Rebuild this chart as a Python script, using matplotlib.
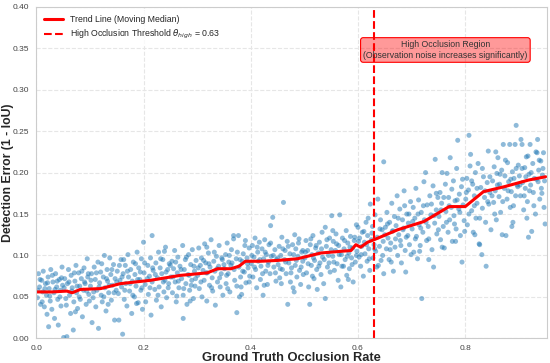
import numpy as np
import matplotlib
matplotlib.use("Agg")
from matplotlib import pyplot as plt
import seaborn as sns

# scatter points, grouped by occlusion bins of 0.05
pts_000 = [(0.002,0.049),(0.004,0.078),(0.006,0.062),(0.008,0.041),(0.010,0.070),(0.012,0.056),(0.013,0.081),(0.015,0.038),(0.017,0.066),(0.019,0.052),(0.020,0.029),(0.022,0.074),(0.023,0.014),(0.024,0.060),(0.026,0.045),(0.027,0.083),(0.029,0.035),(0.031,0.068),(0.033,0.055),(0.034,0.024),(0.036,0.078),(0.038,0.062),(0.040,0.047),(0.041,0.016),(0.043,0.071),(0.045,0.058),(0.046,0.039),(0.048,0.086),(0.049,0.064)]
pts_005 = [(0.051,0.001),(0.053,0.072),(0.055,0.048),(0.057,0.002),(0.058,0.066),(0.060,0.083),(0.062,0.052),(0.064,0.030),(0.065,0.076),(0.067,0.061),(0.069,0.010),(0.070,0.044),(0.072,0.069),(0.074,0.088),(0.075,0.055),(0.077,0.036),(0.079,0.079),(0.081,0.063),(0.082,0.047),(0.084,0.072),(0.086,0.026),(0.088,0.058),(0.089,0.085),(0.091,0.066),(0.093,0.041),(0.095,0.096),(0.096,0.074),(0.098,0.053)]
pts_010 = [(0.101,0.063),(0.103,0.078),(0.104,0.019),(0.106,0.049),(0.108,0.086),(0.110,0.071),(0.111,0.038),(0.113,0.058),(0.115,0.092),(0.116,0.012),(0.118,0.067),(0.120,0.080),(0.121,0.052),(0.123,0.044),(0.125,0.074),(0.127,0.100),(0.128,0.061),(0.130,0.033),(0.132,0.083),(0.133,0.069),(0.135,0.055),(0.137,0.097),(0.139,0.077),(0.140,0.046),(0.142,0.064),(0.144,0.089),(0.146,0.022),(0.147,0.072),(0.149,0.058)]
pts_015 = [(0.151,0.081),(0.153,0.054),(0.154,0.022),(0.156,0.070),(0.158,0.095),(0.159,0.062),(0.161,0.005),(0.162,0.078),(0.164,0.047),(0.166,0.088),(0.167,0.066),(0.169,0.039),(0.171,0.101),(0.172,0.074),(0.174,0.057),(0.176,0.083),(0.178,0.030),(0.179,0.069),(0.181,0.092),(0.183,0.050),(0.184,0.077),(0.186,0.063),(0.188,0.104),(0.190,0.043),(0.191,0.085),(0.193,0.071),(0.195,0.058),(0.196,0.096),(0.198,0.035)]
pts_020 = [(0.201,0.079),(0.203,0.065),(0.204,0.044),(0.200,0.116),(0.208,0.088),(0.209,0.053),(0.211,0.075),(0.213,0.097),(0.214,0.028),(0.216,0.068),(0.218,0.082),(0.216,0.124),(0.221,0.059),(0.223,0.091),(0.224,0.046),(0.226,0.073),(0.228,0.104),(0.229,0.062),(0.231,0.085),(0.233,0.038),(0.234,0.078),(0.236,0.095),(0.238,0.056),(0.240,0.070),(0.241,0.110),(0.243,0.049),(0.245,0.083),(0.247,0.066),(0.248,0.090)]
pts_025 = [(0.251,0.074),(0.253,0.093),(0.254,0.055),(0.256,0.084),(0.258,0.106),(0.259,0.068),(0.261,0.044),(0.263,0.079),(0.264,0.098),(0.266,0.061),(0.268,0.087),(0.274,0.024),(0.271,0.072),(0.273,0.112),(0.274,0.052),(0.276,0.083),(0.278,0.095),(0.279,0.066),(0.281,0.041),(0.283,0.077),(0.284,0.101),(0.286,0.058),(0.288,0.089),(0.290,0.070),(0.291,0.107),(0.293,0.048),(0.295,0.081),(0.296,0.063),(0.298,0.094)]
pts_030 = [(0.301,0.076),(0.303,0.109),(0.304,0.060),(0.306,0.088),(0.308,0.097),(0.309,0.050),(0.311,0.082),(0.313,0.070),(0.314,0.114),(0.316,0.091),(0.318,0.045),(0.319,0.079),(0.321,0.103),(0.323,0.064),(0.324,0.086),(0.326,0.119),(0.328,0.073),(0.329,0.057),(0.331,0.093),(0.333,0.081),(0.334,0.040),(0.336,0.099),(0.338,0.068),(0.340,0.087),(0.341,0.112),(0.343,0.062),(0.345,0.078),(0.347,0.095),(0.348,0.052)]
pts_035 = [(0.351,0.084),(0.353,0.101),(0.354,0.066),(0.356,0.115),(0.358,0.078),(0.359,0.092),(0.361,0.056),(0.363,0.088),(0.364,0.107),(0.368,0.124),(0.368,0.120),(0.369,0.083),(0.374,0.031),(0.373,0.096),(0.374,0.063),(0.377,0.124),(0.378,0.086),(0.379,0.050),(0.381,0.074),(0.383,0.053),(0.384,0.093),(0.386,0.102),(0.388,0.080),(0.390,0.118),(0.391,0.067),(0.393,0.097),(0.395,0.085),(0.397,0.109),(0.398,0.075)]
pts_040 = [(0.401,0.090),(0.403,0.112),(0.404,0.074),(0.406,0.098),(0.408,0.121),(0.409,0.083),(0.411,0.061),(0.413,0.104),(0.414,0.093),(0.416,0.116),(0.418,0.071),(0.419,0.087),(0.421,0.108),(0.423,0.052),(0.424,0.096),(0.426,0.119),(0.428,0.081),(0.429,0.101),(0.431,0.065),(0.433,0.092),(0.434,0.113),(0.436,0.078),(0.438,0.099),(0.437,0.136),(0.441,0.146),(0.443,0.086),(0.445,0.107),(0.447,0.069),(0.448,0.095)]
pts_045 = [(0.451,0.089),(0.453,0.111),(0.454,0.073),(0.456,0.100),(0.458,0.122),(0.459,0.083),(0.461,0.164),(0.463,0.095),(0.464,0.106),(0.466,0.078),(0.468,0.117),(0.469,0.041),(0.471,0.091),(0.473,0.102),(0.474,0.068),(0.476,0.085),(0.478,0.113),(0.479,0.061),(0.481,0.056),(0.483,0.088),(0.484,0.108),(0.486,0.074),(0.488,0.099),(0.490,0.120),(0.491,0.082),(0.493,0.065),(0.495,0.104),(0.497,0.093),(0.498,0.077)]
pts_050 = [(0.501,0.097),(0.503,0.118),(0.504,0.079),(0.506,0.106),(0.508,0.062),(0.510,0.041),(0.511,0.113),(0.513,0.088),(0.514,0.101),(0.516,0.124),(0.518,0.072),(0.519,0.094),(0.521,0.109),(0.523,0.083),(0.524,0.059),(0.526,0.103),(0.528,0.116),(0.529,0.091),(0.531,0.077),(0.533,0.128),(0.534,0.098),(0.539,0.134),(0.536,0.066),(0.539,0.048),(0.541,0.111),(0.543,0.086),(0.545,0.100),(0.547,0.121),(0.548,0.080)]
pts_055 = [(0.551,0.148),(0.553,0.099),(0.554,0.117),(0.556,0.082),(0.558,0.106),(0.559,0.126),(0.561,0.090),(0.563,0.070),(0.564,0.112),(0.566,0.149),(0.568,0.062),(0.569,0.101),(0.571,0.121),(0.573,0.087),(0.574,0.108),(0.576,0.095),(0.578,0.130),(0.579,0.076),(0.581,0.115),(0.583,0.103),(0.584,0.084),(0.586,0.123),(0.588,0.097),(0.590,0.109),(0.591,0.068),(0.593,0.118),(0.595,0.092),(0.597,0.137),(0.598,0.105)]
pts_060 = [(0.600,0.134),(0.602,0.098),(0.603,0.121),(0.605,0.087),(0.607,0.111),(0.608,0.128),(0.610,0.075),(0.612,0.116),(0.613,0.102),(0.615,0.140),(0.617,0.093),(0.618,0.124),(0.620,0.108),(0.622,0.082),(0.623,0.162),(0.625,0.119),(0.627,0.135),(0.628,0.097),(0.630,0.113),(0.632,0.149),(0.633,0.105),(0.635,0.086),(0.637,0.168),(0.638,0.088),(0.640,0.111),(0.642,0.143),(0.643,0.094),(0.645,0.131),(0.647,0.117),(0.648,0.213)]
pts_065 = [(0.648,0.078),(0.651,0.134),(0.653,0.108),(0.654,0.152),(0.656,0.121),(0.658,0.095),(0.659,0.140),(0.661,0.115),(0.663,0.163),(0.664,0.129),(0.666,0.081),(0.668,0.147),(0.669,0.110),(0.671,0.136),(0.673,0.172),(0.674,0.100),(0.676,0.125),(0.678,0.156),(0.679,0.118),(0.681,0.091),(0.683,0.143),(0.684,0.131),(0.686,0.178),(0.688,0.106),(0.689,0.080),(0.691,0.150),(0.693,0.124),(0.694,0.139),(0.696,0.113),(0.698,0.165)]
pts_070 = [(0.701,0.132),(0.703,0.158),(0.704,0.104),(0.706,0.145),(0.708,0.181),(0.709,0.123),(0.711,0.096),(0.713,0.167),(0.714,0.137),(0.716,0.112),(0.718,0.152),(0.719,0.048),(0.721,0.128),(0.723,0.189),(0.724,0.143),(0.726,0.200),(0.728,0.118),(0.729,0.161),(0.731,0.135),(0.732,0.095),(0.734,0.172),(0.736,0.149),(0.738,0.107),(0.740,0.184),(0.741,0.086),(0.743,0.139),(0.744,0.216),(0.746,0.155),(0.747,0.126),(0.749,0.170)]
pts_075 = [(0.751,0.147),(0.753,0.176),(0.754,0.119),(0.756,0.163),(0.757,0.200),(0.759,0.135),(0.761,0.109),(0.763,0.186),(0.764,0.153),(0.766,0.199),(0.768,0.128),(0.769,0.170),(0.771,0.143),(0.772,0.218),(0.774,0.158),(0.776,0.117),(0.778,0.190),(0.779,0.148),(0.781,0.166),(0.783,0.132),(0.784,0.205),(0.786,0.239),(0.788,0.156),(0.789,0.174),(0.791,0.124),(0.793,0.183),(0.794,0.092),(0.796,0.161),(0.798,0.142)]
pts_080 = [(0.801,0.168),(0.803,0.193),(0.804,0.137),(0.806,0.179),(0.807,0.245),(0.809,0.208),(0.810,0.222),(0.812,0.154),(0.814,0.186),(0.815,0.128),(0.817,0.172),(0.819,0.200),(0.820,0.145),(0.822,0.163),(0.824,0.211),(0.826,0.114),(0.827,0.113),(0.829,0.182),(0.831,0.101),(0.832,0.157),(0.834,0.195),(0.836,0.170),(0.838,0.140),(0.839,0.087),(0.841,0.188),(0.843,0.226),(0.844,0.162),(0.846,0.176),(0.848,0.131)]
pts_085 = [(0.851,0.190),(0.853,0.164),(0.854,0.207),(0.856,0.178),(0.858,0.143),(0.859,0.199),(0.861,0.218),(0.863,0.171),(0.864,0.186),(0.866,0.152),(0.868,0.203),(0.869,0.125),(0.871,0.234),(0.873,0.181),(0.874,0.196),(0.876,0.124),(0.878,0.168),(0.879,0.212),(0.881,0.189),(0.883,0.234),(0.884,0.158),(0.886,0.177),(0.888,0.201),(0.889,0.140),(0.891,0.193),(0.893,0.234),(0.894,0.172),(0.895,0.257),(0.897,0.185),(0.899,0.209)]
pts_090 = [(0.901,0.196),(0.903,0.172),(0.904,0.240),(0.906,0.234),(0.907,0.188),(0.909,0.155),(0.911,0.206),(0.912,0.181),(0.914,0.219),(0.916,0.165),(0.918,0.122),(0.919,0.198),(0.921,0.234),(0.922,0.185),(0.924,0.129),(0.926,0.211),(0.927,0.176),(0.929,0.193),(0.931,0.150),(0.932,0.225),(0.934,0.224),(0.936,0.189),(0.937,0.203),(0.939,0.168),(0.941,0.214),(0.942,0.181),(0.944,0.197),(0.946,0.224),(0.947,0.158),(0.949,0.138)]

# denser core of points close to the trend, per 0.1 bin
core_00 = [(0.003,0.058),(0.007,0.071),(0.011,0.044),(0.016,0.060),(0.021,0.067),(0.025,0.051),(0.030,0.076),(0.035,0.059),(0.039,0.069),(0.044,0.050),(0.047,0.073),(0.052,0.061),(0.056,0.040),(0.061,0.068),(0.066,0.057),(0.071,0.079),(0.076,0.063),(0.080,0.050),(0.085,0.081),(0.090,0.068),(0.094,0.057),(0.097,0.078),(0.099,0.045),(0.073,0.032)]
core_01 = [(0.102,0.070),(0.107,0.056),(0.112,0.079),(0.117,0.062),(0.122,0.090),(0.126,0.050),(0.131,0.072),(0.136,0.064),(0.141,0.083),(0.145,0.055),(0.150,0.068),(0.155,0.088),(0.160,0.074),(0.165,0.058),(0.170,0.081),(0.175,0.066),(0.180,0.052),(0.185,0.090),(0.189,0.071),(0.194,0.080),(0.197,0.061),(0.134,0.041),(0.163,0.095),(0.187,0.042)]
core_02 = [(0.202,0.091),(0.207,0.072),(0.212,0.061),(0.217,0.085),(0.222,0.077),(0.227,0.052),(0.232,0.096),(0.237,0.068),(0.242,0.080),(0.246,0.061),(0.250,0.088),(0.255,0.074),(0.260,0.092),(0.265,0.069),(0.270,0.083),(0.275,0.060),(0.280,0.098),(0.285,0.076),(0.289,0.064),(0.294,0.087),(0.297,0.072),(0.239,0.105),(0.262,0.051),(0.287,0.045)]
core_03 = [(0.302,0.085),(0.307,0.068),(0.312,0.094),(0.317,0.079),(0.322,0.090),(0.327,0.061),(0.332,0.104),(0.337,0.084),(0.342,0.073),(0.346,0.097),(0.350,0.089),(0.355,0.076),(0.360,0.100),(0.365,0.091),(0.370,0.070),(0.375,0.104),(0.380,0.095),(0.385,0.081),(0.389,0.112),(0.394,0.090),(0.397,0.068),(0.318,0.110),(0.357,0.060),(0.382,0.062)]
core_04 = [(0.402,0.100),(0.407,0.086),(0.412,0.110),(0.417,0.095),(0.422,0.078),(0.427,0.104),(0.432,0.088),(0.437,0.115),(0.442,0.100),(0.446,0.079),(0.450,0.097),(0.455,0.084),(0.460,0.108),(0.465,0.092),(0.470,0.111),(0.475,0.079),(0.480,0.101),(0.485,0.094),(0.489,0.115),(0.494,0.086),(0.497,0.106),(0.425,0.064),(0.457,0.066),(0.482,0.125)]
core_05 = [(0.502,0.104),(0.507,0.090),(0.512,0.120),(0.517,0.097),(0.522,0.112),(0.527,0.087),(0.532,0.108),(0.537,0.095),(0.542,0.119),(0.546,0.091),(0.550,0.107),(0.555,0.092),(0.560,0.114),(0.565,0.101),(0.570,0.087),(0.575,0.118),(0.580,0.099),(0.585,0.110),(0.589,0.089),(0.594,0.122),(0.597,0.100),(0.515,0.075),(0.553,0.130),(0.582,0.071)]
core_06 = [(0.601,0.117),(0.606,0.101),(0.611,0.129),(0.616,0.113),(0.621,0.096),(0.626,0.127),(0.631,0.108),(0.636,0.122),(0.641,0.132),(0.646,0.100),(0.650,0.125),(0.655,0.138),(0.660,0.107),(0.665,0.130),(0.670,0.120),(0.675,0.145),(0.680,0.112),(0.685,0.133),(0.690,0.122),(0.695,0.150),(0.699,0.101),(0.619,0.145),(0.662,0.092),(0.687,0.160)]
core_07 = [(0.702,0.141),(0.707,0.120),(0.712,0.150),(0.717,0.133),(0.722,0.160),(0.727,0.140),(0.732,0.120),(0.737,0.162),(0.742,0.148),(0.746,0.175),(0.750,0.131),(0.755,0.155),(0.760,0.170),(0.765,0.140),(0.770,0.160),(0.775,0.180),(0.780,0.138),(0.785,0.167),(0.790,0.152),(0.795,0.192),(0.799,0.129),(0.715,0.105),(0.757,0.110),(0.782,0.117)]
core_08 = [(0.802,0.176),(0.807,0.150),(0.812,0.190),(0.817,0.160),(0.822,0.181),(0.827,0.145),(0.832,0.205),(0.837,0.178),(0.842,0.165),(0.846,0.195),(0.850,0.172),(0.855,0.150),(0.860,0.185),(0.865,0.198),(0.870,0.165),(0.875,0.215),(0.880,0.178),(0.885,0.192),(0.890,0.160),(0.895,0.205),(0.898,0.183),(0.818,0.125),(0.857,0.225),(0.887,0.135)]
core_09 = [(0.902,0.185),(0.906,0.205),(0.910,0.172),(0.913,0.195),(0.917,0.220),(0.920,0.178),(0.923,0.200),(0.928,0.160),(0.933,0.192),(0.938,0.215),(0.943,0.175),(0.945,0.205),(0.948,0.190),(0.915,0.145),(0.935,0.240)]

# moving median trend
trend_x = [0.000, 0.030, 0.057, 0.067, 0.082, 0.120, 0.157, 0.213, 0.269, 0.319, 0.338, 0.363, 0.378, 0.390, 0.419, 0.450, 0.487, 0.531, 0.587, 0.596, 0.605, 0.618, 0.630, 0.674, 0.723, 0.770, 0.800, 0.834, 0.873, 0.918, 0.950]
trend_y = [0.056, 0.056, 0.057, 0.055, 0.059, 0.060, 0.066, 0.070, 0.076, 0.079, 0.084, 0.084, 0.087, 0.093, 0.093, 0.094, 0.096, 0.103, 0.106, 0.113, 0.110, 0.116, 0.119, 0.131, 0.141, 0.159, 0.159, 0.177, 0.183, 0.191, 0.195]

threshold = 0.63


def main():
    sns.set_style("whitegrid", {"grid.linestyle": "--", "grid.color": "#e6e6e6"})
    plt.rcParams["font.family"] = ["Liberation Sans", "DejaVu Sans"]

    groups = [pts_000, pts_005, pts_010, pts_015, pts_020, pts_025, pts_030, pts_035,
              pts_040, pts_045, pts_050, pts_055, pts_060, pts_065, pts_070, pts_075,
              pts_080, pts_085, pts_090, core_00, core_01, core_02, core_03, core_04,
              core_05, core_06, core_07, core_08, core_09]
    pts = np.array([p for g in groups for p in g])

    fig, ax = plt.subplots(figsize=(5.5, 3.63), dpi=100)
    fig.subplots_adjust(left=0.066, right=0.995, top=0.981, bottom=0.068)

    ax.scatter(pts[:, 0], pts[:, 1], s=13, color="#1f77b4", alpha=0.5, edgecolors="none")
    ax.plot(trend_x, trend_y, color="red", lw=2.2, label="Trend Line (Moving Median)")
    ax.axvline(threshold, color="red", ls="--", lw=1.5,
               label=r"High Occlusion Threshold $\theta_{high}$ = 0.63")

    ax.text(0.763, 0.348, "High Occlusion Region\n(Observation noise increases significantly)",
            ha="center", va="center", fontsize=6.3, color="#333333",
            bbox=dict(boxstyle="round,pad=0.3", facecolor=(1, 0, 0, 0.4), edgecolor="red", lw=0.8))

    ax.set_xlim(0, 0.953)
    ax.set_ylim(0, 0.40)
    ax.set_yticks(np.arange(0, 0.401, 0.05))
    ax.set_xlabel("Ground Truth Occlusion Rate", fontsize=9.3, fontweight="bold", labelpad=0)
    ax.set_ylabel("Detection Error (1 - IoU)", fontsize=8.8, fontweight="bold")
    ax.yaxis.set_label_coords(-0.044, 0.5)
    ax.tick_params(labelsize=6, colors="#444444", pad=1.5)
    for s in ax.spines.values():
        s.set_color("#cccccc")
        s.set_linewidth(0.8)

    ax.legend(loc="upper left", fontsize=6.3, frameon=True, framealpha=0.8,
              edgecolor="white", handlelength=2.2)

    fig.savefig("out.png", dpi=100)


if __name__ == "__main__":
    main()
